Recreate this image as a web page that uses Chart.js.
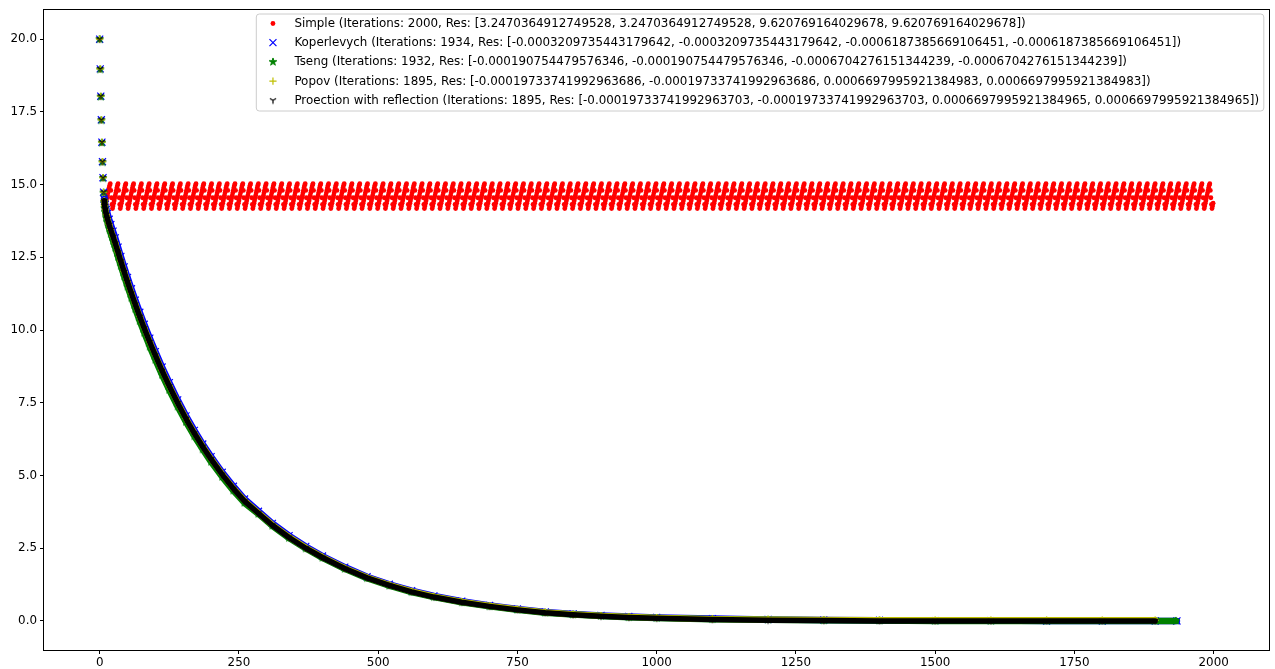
<!DOCTYPE html>
<html><head><meta charset="utf-8">
<script src="https://cdn.jsdelivr.net/npm/chart.js@4/dist/chart.umd.min.js"></script>
<style>html,body{margin:0;padding:0;background:#fff;}canvas{display:block;}</style>
</head><body>
<canvas id="c" width="1275" height="669"></canvas>
<script>
// ---------- data ----------
const xTicks = [0, 250, 500, 750, 1000, 1250, 1500, 1750, 2000];
const yTicks = [0, 2.5, 5, 7.5, 10, 12.5, 15, 17.5, 20];

const labelSimple = "Simple (Iterations: 2000, Res: [3.2470364912749528, 3.2470364912749528, 9.620769164029678, 9.620769164029678])";
const labelKoperlevych = "Koperlevych (Iterations: 1934, Res: [-0.0003209735443179642, -0.0003209735443179642, -0.0006187385669106451, -0.0006187385669106451])";
const labelTseng = "Tseng (Iterations: 1932, Res: [-0.000190754479576346, -0.000190754479576346, -0.0006704276151344239, -0.0006704276151344239])";
const labelPopov = "Popov (Iterations: 1895, Res: [-0.00019733741992963686, -0.00019733741992963686, 0.0006697995921384983, 0.0006697995921384983])";
const labelProection = "Proection with reflection (Iterations: 1895, Res: [-0.00019733741992963703, -0.00019733741992963703, 0.0006697995921384965, 0.0006697995921384965])";

// Simple: first iterations, then the repeating oscillation
const simpleHead = [20.00, 18.98, 18.04, 17.23, 16.46, 15.79, 15.24, 14.74, 14.45];
const simpleCycle = [14.18, 14.27, 14.36, 14.45, 14.54, 14.63, 14.72, 14.81, 14.90, 14.98, 15.03, 14.80, 14.55, 14.32];
const simpleCount = 2000;

// sampled iterations of the decaying methods
const decayIters = [0,1,2,3,4,5,6,7,8,9,10,12,14,17,20,24,28,33,38,44,50,57,64,72,80,90,100,112,125,140,155,170,185,200,220,240,260,285,310,340,370,400,440,480,520,560,600,650,700,750,800,850,900,950,1000,1100,1200,1300,1400,1500,1600,1700,1800,1895];
const koperlevychIters = [0,1,2,3,4,5,6,7,8,9,10,12,14,17,20,24,28,33,38,44,50,57,64,72,80,90,100,112,125,140,155,170,185,200,220,240,260,285,310,340,370,400,440,480,520,560,600,650,700,750,800,850,900,950,1000,1100,1200,1300,1400,1500,1600,1700,1800,1895,1934];
const tsengIters = [0,1,2,3,4,5,6,7,8,9,10,12,14,17,20,24,28,33,38,44,50,57,64,72,80,90,100,112,125,140,155,170,185,200,220,240,260,285,310,340,370,400,440,480,520,560,600,650,700,750,800,850,900,950,1000,1100,1200,1300,1400,1500,1600,1700,1800,1895,1932];

const koperlevychValues = [20.00,18.98,18.04,17.23,16.46,15.79,15.24,14.74,14.50,14.43,14.32,14.15,14.01,13.81,13.63,13.40,13.17,12.85,12.53,12.17,11.81,11.42,11.03,10.61,10.20,9.72,9.26,8.73,8.19,7.60,7.05,6.55,6.08,5.65,5.11,4.63,4.19,3.77,3.35,2.93,2.56,2.23,1.85,1.52,1.26,1.04,0.86,0.68,0.53,0.41,0.31,0.24,0.19,0.15,0.12,0.08,0.05,0.03,0.02,0.01,0.01,0.00,0.00,0.00,0.00];
const tsengValues = [20.00,18.96,18.02,17.21,16.44,15.77,15.22,14.72,14.40,14.20,14.06,13.86,13.71,13.50,13.31,13.07,12.83,12.52,12.21,11.85,11.50,11.11,10.73,10.31,9.91,9.43,8.98,8.46,7.94,7.37,6.84,6.35,5.90,5.47,4.95,4.48,4.06,3.68,3.27,2.85,2.49,2.17,1.79,1.47,1.21,0.99,0.82,0.64,0.50,0.38,0.28,0.22,0.17,0.13,0.10,0.06,0.04,0.02,0.01,0.00,0.00,0.00,0.00,0.00,0.00];
const popovValues = [20.00,18.98,18.04,17.23,16.46,15.79,15.24,14.74,14.45,14.28,14.16,13.98,13.84,13.64,13.46,13.23,13.00,12.69,12.38,12.02,11.67,11.28,10.90,10.48,10.08,9.60,9.15,8.62,8.09,7.51,6.97,6.47,6.01,5.58,5.05,4.57,4.14,3.72,3.31,2.89,2.52,2.20,1.82,1.50,1.24,1.02,0.84,0.66,0.52,0.40,0.30,0.23,0.18,0.14,0.11,0.07,0.05,0.04,0.03,0.03,0.03,0.03,0.03,0.03];
const proectionValues = [20.00,18.98,18.04,17.23,16.46,15.79,15.24,14.74,14.45,14.27,14.15,13.97,13.82,13.62,13.44,13.21,12.98,12.67,12.36,12.00,11.65,11.26,10.88,10.46,10.06,9.58,9.13,8.60,8.07,7.49,6.95,6.45,5.99,5.56,5.03,4.55,4.12,3.70,3.29,2.87,2.50,2.18,1.80,1.48,1.22,1.00,0.82,0.64,0.50,0.38,0.28,0.21,0.16,0.12,0.09,0.05,0.02,0.01,0.00,0.00,0.00,0.00,0.00,0.00];

// ---------- build tables ----------
function pairs(xs, ys) { return xs.map((x, i) => ({ x: x, y: ys[i] })); }
const simplePoints = [];
for (let i = 0; i < simpleCount; i++) {
  const v = i < simpleHead.length ? simpleHead[i] : simpleCycle[(i - simpleHead.length) % simpleCycle.length];
  simplePoints.push({ x: i, y: v });
}

// ---------- marker images ----------
const R = 3.6;
function makeCanvas(draw) {
  const c = document.createElement('canvas');
  c.width = 14; c.height = 14;
  const g = c.getContext('2d');
  draw(g, 7, 7);
  return c;
}
const starImg = makeCanvas((g, cx, cy) => {
  g.beginPath();
  for (let k = 0; k < 10; k++) {
    const r = k % 2 === 0 ? R + 0.4 : (R + 0.4) * 0.382;
    const a = -Math.PI / 2 + k * Math.PI / 5;
    const px = cx + r * Math.cos(a), py = cy + r * Math.sin(a);
    k === 0 ? g.moveTo(px, py) : g.lineTo(px, py);
  }
  g.closePath();
  g.fillStyle = '#008000'; g.strokeStyle = '#008000'; g.lineWidth = 1;
  g.fill(); g.stroke();
});
const triImg = makeCanvas((g, cx, cy) => {
  g.strokeStyle = '#000'; g.lineWidth = 1.2;
  g.beginPath();
  g.moveTo(cx, cy); g.lineTo(cx, cy + R);
  g.moveTo(cx, cy); g.lineTo(cx - 0.866 * R, cy - 0.5 * R);
  g.moveTo(cx, cy); g.lineTo(cx + 0.866 * R, cy - 0.5 * R);
  g.stroke();
});

const hideStart = ctx => ctx.p0DataIndex < 8 ? 'rgba(0,0,0,0)' : undefined;

const datasets = [
  { label: labelSimple, data: simplePoints, order: 5, pointStyle: 'circle', pointRadius: 2.4,
    backgroundColor: '#ff0000', borderColor: '#ff0000', pointBorderWidth: 0, showLine: false, legendKind: 'dot', legendColor: '#ff0000' },
  { label: labelKoperlevych, data: pairs(koperlevychIters, koperlevychValues), order: 4, pointStyle: 'crossRot', pointRadius: 5,
    borderColor: '#0000ff', backgroundColor: '#0000ff', pointBorderWidth: 1.2, showLine: true, borderWidth: 6.5,
    borderCapStyle: 'round', borderJoinStyle: 'round', segment: { borderColor: hideStart }, legendKind: 'x', legendColor: '#0000ff' },
  { label: labelTseng, data: pairs(tsengIters, tsengValues), order: 3, pointStyle: starImg, pointRadius: 4,
    borderColor: '#008000', backgroundColor: '#008000', pointBorderWidth: 1, showLine: true, borderWidth: 6.5,
    borderCapStyle: 'round', borderJoinStyle: 'round', segment: { borderColor: hideStart }, legendKind: 'star', legendColor: '#008000' },
  { label: labelPopov, data: pairs(decayIters, popovValues), order: 2, pointStyle: 'cross', pointRadius: 3.6,
    borderColor: '#bfbf00', backgroundColor: '#bfbf00', pointBorderWidth: 1.2, showLine: true, borderWidth: 6,
    borderCapStyle: 'round', borderJoinStyle: 'round', segment: { borderColor: hideStart }, legendKind: 'plus', legendColor: '#bfbf00' },
  { label: labelProection, data: pairs(decayIters, proectionValues), order: 1, pointStyle: triImg, pointRadius: 4,
    borderColor: '#000000', backgroundColor: '#000000', pointBorderWidth: 1.2, showLine: true, borderWidth: 5.5,
    borderCapStyle: 'round', borderJoinStyle: 'round', segment: { borderColor: hideStart }, legendKind: 'tri', legendColor: '#000000' }
];

const FONT = '"DejaVu Sans", sans-serif';
const FS = 11.9;

function drawLegendMarker(ctx, kind, color, x, y) {
  ctx.save();
  ctx.strokeStyle = color; ctx.fillStyle = color; ctx.lineWidth = 1.2;
  if (kind === 'dot') { ctx.beginPath(); ctx.arc(x, y, 2.4, 0, Math.PI * 2); ctx.fill(); }
  else if (kind === 'x') { const d = 3.5; ctx.beginPath(); ctx.moveTo(x - d, y - d); ctx.lineTo(x + d, y + d); ctx.moveTo(x - d, y + d); ctx.lineTo(x + d, y - d); ctx.stroke(); }
  else if (kind === 'plus') { const d = 3.6; ctx.beginPath(); ctx.moveTo(x - d, y); ctx.lineTo(x + d, y); ctx.moveTo(x, y - d); ctx.lineTo(x, y + d); ctx.stroke(); }
  else if (kind === 'star') { ctx.drawImage(starImg, x - 7, y - 7); }
  else if (kind === 'tri') { ctx.drawImage(triImg, x - 7, y - 7); }
  ctx.restore();
}

const framePlugin = {
  id: 'frameAndLegend',
  afterDraw(chart) {
    const ctx = chart.ctx, a = chart.chartArea;
    ctx.save();
    ctx.strokeStyle = '#000'; ctx.lineWidth = 1;
    ctx.strokeRect(Math.round(a.left) - 0.5, Math.round(a.top) - 0.5, Math.round(a.right - a.left) + 1, Math.round(a.bottom - a.top) + 1);
    // legend
    ctx.font = FS + 'px ' + FONT;
    const ds = chart.data.datasets;
    let maxW = 0;
    ds.forEach(d => { maxW = Math.max(maxW, ctx.measureText(d.label).width); });
    const pad = 0.4 * FS, handle = 2 * FS, tpad = 0.8 * FS;
    const right = a.right - 5;
    const left = right - (pad + handle + tpad + maxW + pad);
    const top = 14, bottom = 111, rad = 3;
    ctx.beginPath();
    ctx.moveTo(left + rad, top); ctx.lineTo(right - rad, top); ctx.arcTo(right, top, right, top + rad, rad);
    ctx.lineTo(right, bottom - rad); ctx.arcTo(right, bottom, right - rad, bottom, rad);
    ctx.lineTo(left + rad, bottom); ctx.arcTo(left, bottom, left, bottom - rad, rad);
    ctx.lineTo(left, top + rad); ctx.arcTo(left, top, left + rad, top, rad);
    ctx.closePath();
    ctx.fillStyle = 'rgba(255,255,255,0.8)'; ctx.fill();
    ctx.strokeStyle = '#cccccc'; ctx.lineWidth = 1; ctx.stroke();
    const rowY = [23.5, 42.7, 61.9, 81.1, 100.3];
    ds.forEach((d, i) => {
      const y = rowY[i];
      drawLegendMarker(ctx, d.legendKind, d.legendColor, left + pad + handle / 2, y);
      ctx.fillStyle = '#000'; ctx.textBaseline = 'middle'; ctx.textAlign = 'left';
      ctx.fillText(d.label, left + pad + handle + tpad, y + 0.5);
    });
    ctx.restore();
  }
};

const tickFont = { family: FONT, size: FS };
new Chart(document.getElementById('c'), {
  type: 'scatter',
  data: { datasets: datasets },
  plugins: [framePlugin],
  options: {
    responsive: false, animation: false, devicePixelRatio: 1,
    layout: { padding: { top: 10, right: 6, left: 0, bottom: 0 } },
    plugins: { legend: { display: false }, tooltip: { enabled: false } },
    elements: { line: { tension: 0 } },
    scales: {
      x: {
        type: 'linear', min: -99.95, max: 2098.95,
        afterBuildTicks: s => { s.ticks = xTicks.map(v => ({ value: v })); },
        afterFit: s => { s.height = 19; },
        ticks: { font: tickFont, color: '#000', padding: 2, maxRotation: 0, autoSkip: false, callback: v => String(v) },
        grid: { display: true, drawOnChartArea: false, drawTicks: true, tickLength: 4, tickWidth: 1, tickColor: '#000' },
        border: { display: false }
      },
      y: {
        type: 'linear', min: -1, max: 21,
        afterBuildTicks: s => { s.ticks = yTicks.map(v => ({ value: v })); },
        afterFit: s => { s.width = 44; },
        ticks: { font: tickFont, color: '#000', padding: 3, autoSkip: false, callback: v => Number(v).toFixed(1) },
        grid: { display: true, drawOnChartArea: false, drawTicks: true, tickLength: 4, tickWidth: 1, tickColor: '#000' },
        border: { display: false }
      }
    }
  }
});
</script>
</body></html>
